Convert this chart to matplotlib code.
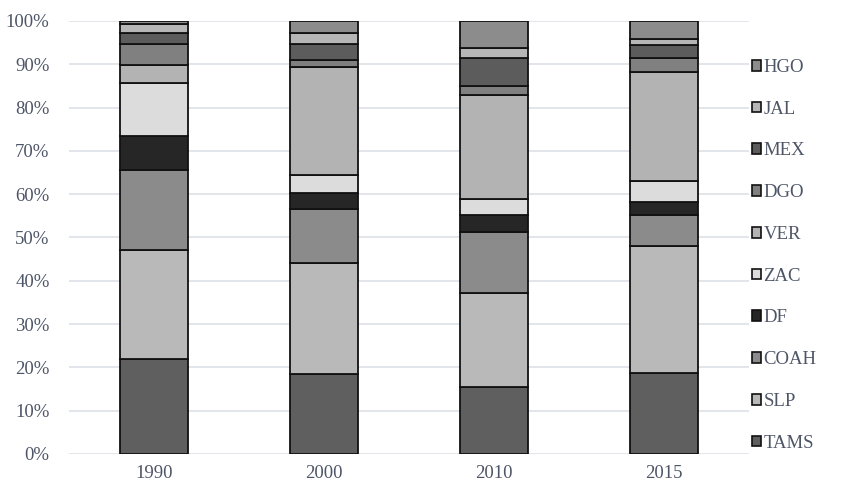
import numpy as np
import matplotlib
matplotlib.use('Agg')
import matplotlib.pyplot as plt
from matplotlib.patches import Patch

years = ['1990', '2000', '2010', '2015']
states = ['TAMS', 'SLP', 'COAH', 'DF', 'ZAC', 'VER', 'DGO', 'MEX', 'JAL', 'HGO']

# share of each state per year (%)
TAMS = [22.0, 18.4, 15.5, 18.8]
SLP = [25.2, 25.6, 21.7, 29.2]
COAH = [18.3, 12.5, 14.1, 7.3]
DF = [7.9, 3.8, 4.0, 3.0]
ZAC = [12.2, 4.1, 3.7, 4.7]
VER = [4.2, 24.9, 23.9, 25.3]
DGO = [5.0, 1.7, 2.1, 3.1]
MEX = [2.4, 3.8, 6.4, 3.0]
JAL = [2.1, 2.5, 2.35, 1.5]
HGO = [0.7, 2.7, 6.25, 4.1]

series = [TAMS, SLP, COAH, DF, ZAC, VER, DGO, MEX, JAL, HGO]
colors = ['#5f5f5f', '#b9b9b9', '#8b8b8b', '#262626', '#dcdcdc',
          '#b3b3b3', '#808080', '#5c5c5c', '#b6b6b6', '#8c8c8c']

txt = '#4d5566'
plt.rcParams['font.family'] = 'Liberation Serif'

fig = plt.figure(figsize=(8.41, 4.92), dpi=100)
ax = fig.add_axes([69 / 841, 38 / 492, 680 / 841, 433 / 492])

x = np.arange(len(years))
bottom = np.zeros(len(years))
for vals, col, name in zip(series, colors, states):
    vals = np.array(vals)
    ax.bar(x, vals, 0.4, bottom=bottom, color=col, edgecolor='#111111',
           linewidth=1.3, label=name, zorder=3)
    bottom += vals

ax.set_xlim(-0.5, 3.5)
ax.set_ylim(0, 100)
ax.set_yticks(np.arange(0, 101, 10))
ax.set_yticklabels([str(v) + '%' for v in range(0, 101, 10)])
ax.set_xticks(x)
ax.set_xticklabels(years)
ax.yaxis.grid(True, color='#dde1e8', linewidth=1.2, zorder=0)
for s in ax.spines.values():
    s.set_visible(False)
ax.tick_params(length=0, labelsize=13.5, colors=txt)
ax.tick_params(axis='y', pad=14)
ax.tick_params(axis='x', pad=8)

handles = [Patch(facecolor=c, edgecolor='#111111', linewidth=1.2) for c in colors]
leg = fig.legend(handles[::-1], states[::-1], loc='upper left',
                 bbox_to_anchor=(735 / 841, 1 - 42 / 492), frameon=False,
                 handlelength=0.5, handleheight=0.5, handletextpad=0.12,
                 labelspacing=1.32, fontsize=13.5, labelcolor=txt)

fig.savefig('out.png', dpi=100)
